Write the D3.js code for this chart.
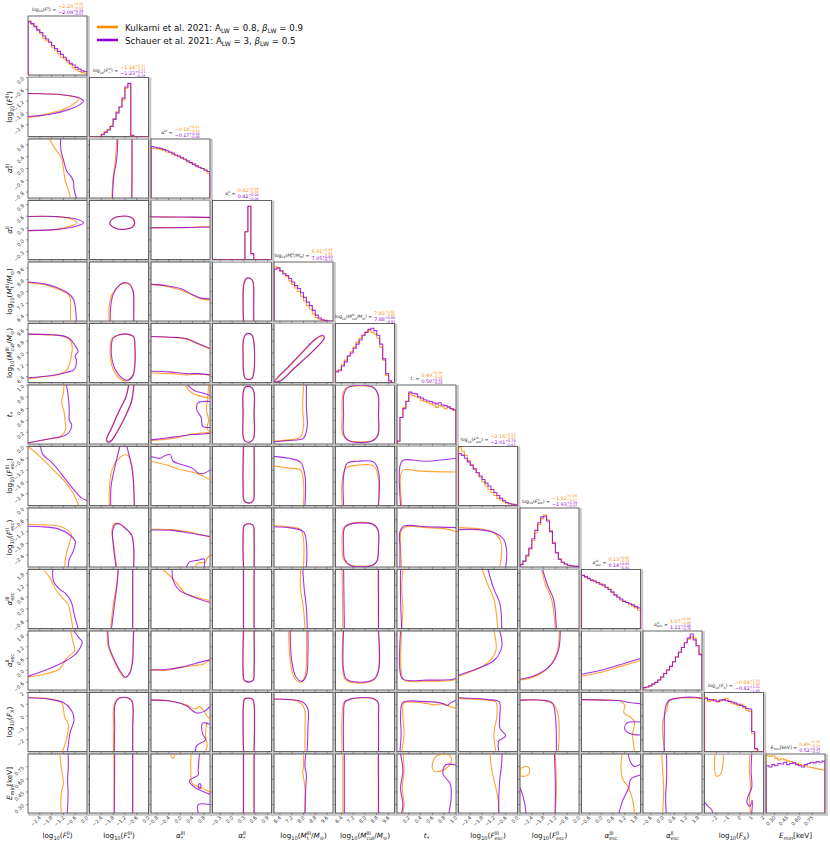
<!DOCTYPE html>
<html><head><meta charset="utf-8">
<script src="https://cdn.jsdelivr.net/npm/d3@7"></script>
<style>body{margin:0;background:#fff}text{font-family:"DejaVu Sans",sans-serif}</style>
</head><body><svg id="c" width="830" height="845"></svg>
<script>
// ---------------- DATA ----------------
const seriesNames = ["Kulkarni et al. 2021", "Schauer et al. 2021"];
const seriesColors = ["#ff8c00", "#9400d3"];
const legendParams = [["0.8","0.9"],["3","0.5"]];

const paramLabels = [
  [["log",""],["10","b"],["(",""],["F","i"],["II","ps","*"],[")",""]],
  [["log",""],["10","b"],["(",""],["F","i"],["III","ps","*"],[")",""]],
  [["α","i"],["III","ps","*"]],
  [["α","i"],["II","ps","*"]],
  [["log",""],["10","b"],["(",""],["M","i"],["III","ps","t"],["/",""],["M","i"],["⊙","b"],[")",""]],
  [["log",""],["10","b"],["(",""],["M","i"],["III","ps","cut"],["/",""],["M","i"],["⊙","b"],[")",""]],
  [["t","i"],["*","b"]],
  [["log",""],["10","b"],["(",""],["F","i"],["III","ps","esc"],[")",""]],
  [["log",""],["10","b"],["(",""],["F","i"],["II","ps","esc"],[")",""]],
  [["α","i"],["III","ps","esc"]],
  [["α","i"],["II","ps","esc"]],
  [["log",""],["10","b"],["(",""],["F","i"],["X","b"],[")",""]],
  [["E","i"],["min","b"],["[keV]",""]]
];
const paramDomains = [[-3,0],[-3,0],[-1,1],[-0.5,1],[6,10],[6,10],[0,1],[-3,0],[-3,0],[-1,2],[-1,2],[-3,2],[0.2,0.9]];
const paramTicks = [
  [-2.4,-1.8,-1.2,-0.6,0],[-2.4,-1.8,-1.2,-0.6,0],[-0.8,-0.4,0,0.4,0.8],[-0.3,0,0.3,0.6,0.9],
  [6.4,7.2,8.0,8.8,9.6],[6.4,7.2,8.0,8.8,9.6],[0.2,0.4,0.6,0.8,1.0],[-2.4,-1.8,-1.2,-0.6,0],
  [-2.4,-1.8,-1.2,-0.6,0],[-0.6,0,0.6,1.2,1.8],[-0.6,0,0.6,1.2,1.8],[-2,-1,0,1,2],[0.30,0.45,0.60,0.75]];
const tickDecimals = [1,1,1,1,1,1,1,1,1,1,1,0,2];

const titleKulkarni = [["−2.20","+0.40","−0.58"],["−1.24","+0.21","−0.31"],["−0.14","+0.51","−0.50"],["0.42","+0.04","−0.04"],["6.91","+0.86","−0.66"],["7.83","+0.62","−0.85"],["0.49","+0.34","−0.29"],["−2.16","+0.73","−0.55"],["−1.92","+0.38","−0.37"],["0.13","+0.92","−0.79"],["1.07","+0.48","−0.68"],["−0.84","+1.30","−1.49"],["0.49","+0.26","−0.20"]];
const titleSchauer = [["−2.09","+0.38","−0.55"],["−1.23","+0.21","−0.28"],["−0.17","+0.54","−0.48"],["0.42","+0.04","−0.04"],["7.05","+0.80","−0.73"],["7.88","+0.60","−0.83"],["0.50","+0.33","−0.29"],["−2.01","+0.79","−0.63"],["−1.93","+0.39","−0.37"],["0.14","+0.91","−0.81"],["1.11","+0.46","−0.76"],["−0.82","+1.31","−1.45"],["0.52","+0.24","−0.22"]];

const histKulkarni = [
  [.92,.86,.83,.77,.70,.62,.58,.55,.47,.42,.36,.30,.27,.22,.18,.12,.09,.06,.04,.03],
  [0,0,0,0,.04,.08,.12,.18,.30,.42,.50,.62,.82,.89,.02,0,0,0,0,0],
  [.84,.84,.83,.82,.81,.78,.77,.74,.72,.70,.68,.65,.61,.60,.58,.55,.52,.50,.48,.42],
  [0,0,0,0,0,0,0,0,0,0,0,.47,.90,.10,0,0,0,0,0,0],
  [.92,.90,.85,.80,.75,.68,.62,.56,.50,.42,.34,.26,.20,.12,.06,.03,.01,0,0,0],
  [.20,.22,.30,.38,.45,.52,.60,.68,.75,.80,.85,.88,.85,.82,.75,.60,.38,.12,.02,0],
  [.04,.45,.62,.73,.85,.82,.80,.78,.74,.72,.70,.68,.66,.62,.65,.64,.60,.62,.60,.57],
  [.98,.92,.85,.76,.70,.62,.55,.48,.40,.33,.27,.22,.17,.12,.09,.06,.04,.03,.02,.01],
  [.05,.10,.18,.30,.45,.58,.72,.82,.88,.80,.62,.42,.25,.14,.08,.05,.03,.02,.01,.01],
  [.90,.87,.84,.82,.81,.77,.76,.72,.70,.67,.61,.57,.53,.48,.46,.44,.41,.38,.35,.31],
  [.04,.05,.07,.10,.13,.17,.22,.28,.34,.40,.48,.56,.64,.72,.80,.86,.90,.88,.75,.62],
  [.92,.85,.86,.88,.84,.86,.87,.90,.85,.82,.80,.78,.80,.74,.70,.68,.30,.03,0,0],
  [.97,.96,.97,.93,.90,.92,.90,.88,.87,.85,.84,.82,.80,.80,.78,.77,.76,.75,.74,.73]
];
const histSchauer = [
  [.90,.87,.82,.76,.72,.66,.61,.56,.50,.45,.40,.35,.30,.25,.20,.17,.13,.10,.07,.06],
  [0,0,0,0,.03,.07,.11,.17,.29,.40,.50,.65,.84,.90,.02,0,0,0,0,0],
  [.87,.86,.85,.84,.82,.80,.78,.76,.73,.71,.68,.66,.63,.60,.57,.54,.52,.50,.47,.45],
  [0,0,0,0,0,0,0,0,0,0,0,.47,.90,.10,0,0,0,0,0,0],
  [.88,.90,.85,.80,.77,.72,.66,.60,.55,.48,.40,.32,.26,.18,.10,.05,.02,.01,0,0],
  [.18,.20,.28,.35,.45,.50,.58,.65,.72,.80,.85,.90,.92,.88,.80,.65,.40,.15,.03,0],
  [.05,.45,.60,.72,.88,.86,.85,.80,.78,.75,.73,.72,.70,.68,.70,.66,.65,.63,.60,.58],
  [.88,.85,.80,.74,.68,.62,.56,.50,.44,.38,.33,.27,.22,.17,.12,.08,.05,.03,.02,.01],
  [.04,.10,.20,.32,.48,.62,.75,.85,.86,.78,.60,.40,.24,.13,.08,.05,.03,.02,.01,.01],
  [.90,.88,.85,.82,.80,.78,.75,.74,.70,.66,.62,.57,.53,.50,.46,.44,.42,.40,.37,.35],
  [.04,.05,.07,.10,.13,.17,.22,.28,.34,.40,.48,.56,.64,.72,.80,.88,.95,.85,.75,.60],
  [.90,.88,.88,.86,.85,.87,.88,.86,.85,.84,.82,.80,.78,.76,.73,.72,.34,.05,0,0],
  [.80,.78,.82,.80,.84,.83,.86,.82,.84,.85,.82,.80,.78,.82,.84,.86,.85,.87,.86,.88]
];

// 2D contours: [column, series(0=Kulkarni,1=Schauer), closed, [[x,y],...]] in parameter units
const contoursRow1 = [
  [0,0,false,[[-3,-0.81],[-1.8,-0.84],[-0.9,-0.93],[-0.51,-1.02],[-0.42,-1.11],[-0.6,-1.29],[-1.05,-1.56],[-1.8,-1.8],[-2.55,-1.98],[-3,-2.04]]],
  [0,1,false,[[-3,-0.81],[-1.8,-0.84],[-0.9,-0.93],[-0.36,-1.05],[-0.18,-1.2],[-0.36,-1.38],[-0.9,-1.62],[-1.8,-1.86],[-2.55,-1.95],[-3,-1.98]]]
];
const contoursRow2 = [
  [0,0,false,[[-1.92,1],[-1.65,0.7],[-1.29,0.34],[-1.2,0],[-1.11,-0.4],[-0.96,-0.7],[-0.84,-1]]],
  [0,1,false,[[-1.35,1],[-1.32,0.6],[-1.2,0.3],[-1.02,-0.1],[-0.84,-0.24],[-0.69,-0.44],[-0.66,-0.7],[-0.54,-1]]],
  [1,0,false,[[-1.62,1],[-1.68,0.3],[-1.8,-0.3],[-1.86,-1]]],
  [1,0,false,[[-0.84,1],[-0.84,-0.2],[-0.87,-1]]],
  [1,1,false,[[-1.56,1],[-1.62,0.3],[-1.77,-0.3],[-1.83,-1]]],
  [1,1,false,[[-0.84,1],[-0.84,-1]]]
];
const contoursRow3 = [
  [0,0,false,[[-3,0.595],[-1.5,0.59],[-0.8,0.53],[-0.5,0.43],[-0.8,0.36],[-1.5,0.27],[-3,0.235]]],
  [0,1,false,[[-3,0.595],[-1.5,0.59],[-0.6,0.535],[-0.18,0.43],[-0.6,0.34],[-1.5,0.265],[-3,0.235]]],
  [1,0,true,[[-1.98,0.43],[-1.8,0.54],[-1.4,0.595],[-0.95,0.58],[-0.72,0.47],[-0.8,0.33],[-1.2,0.265],[-1.65,0.29],[-1.9,0.36]]],
  [1,1,true,[[-1.97,0.43],[-1.8,0.545],[-1.4,0.6],[-0.95,0.585],[-0.71,0.47],[-0.8,0.33],[-1.2,0.27],[-1.65,0.29],[-1.9,0.36]]],
  [2,0,false,[[-1,0.58],[0,0.575],[1,0.565]]],
  [2,0,false,[[-1,0.31],[0,0.315],[1,0.34]]],
  [2,1,false,[[-1,0.585],[0,0.58],[1,0.57]]],
  [2,1,false,[[-1,0.305],[0,0.31],[1,0.325]]]
];
const contoursRow4 = [
  [0,0,false,[[-3,8.6],[-2.1,8.44],[-1.56,8.2],[-0.96,7.8],[-0.84,7.5],[-0.84,7.0],[-0.84,6.0]]],
  [0,1,false,[[-3,8.64],[-2.1,8.5],[-1.47,8.24],[-0.96,7.88],[-0.7,7.5],[-0.6,7.0],[-0.54,6.0]]],
  [1,0,false,[[-2.0,6],[-2.0,7.0],[-1.86,7.8],[-1.5,8.4],[-1.23,8.55],[-0.96,8.45],[-0.78,8.0],[-0.78,6.0]]],
  [1,1,false,[[-1.95,6],[-1.92,7.0],[-1.8,7.8],[-1.5,8.4],[-1.26,8.6],[-0.96,8.5],[-0.78,8.0],[-0.75,7.0],[-0.75,6.0]]],
  [2,0,false,[[-1,8.48],[-0.5,8.36],[0,8.1],[0.4,7.75],[0.7,7.5],[1,7.4]]],
  [2,1,false,[[-1,8.48],[-0.5,8.4],[0,8.2],[0.4,7.8],[0.7,7.55],[1,7.5]]],
  [3,0,false,[[0.28,6],[0.27,7.5],[0.29,8.5],[0.35,8.85],[0.43,8.9],[0.51,8.75],[0.54,8.3],[0.54,7],[0.55,6]]],
  [3,1,false,[[0.29,6],[0.28,7.5],[0.3,8.5],[0.36,8.88],[0.44,8.92],[0.52,8.75],[0.55,8.3],[0.55,7],[0.55,6]]]
];
const contoursRow5 = [
  [0,0,false,[[-3,9.28],[-1.8,9.22],[-1.2,9.12],[-0.84,8.84],[-0.75,8.4],[-0.8,7.8],[-0.9,7.2],[-1.05,6.8],[-1.5,6.52],[-2.4,6.36],[-3,6.24]]],
  [0,1,false,[[-3,9.28],[-1.8,9.24],[-1.2,9.16],[-0.84,8.92],[-0.6,8.48],[-0.45,8.12],[-0.6,7.8],[-0.54,7.52],[-0.66,6.88],[-1.05,6.68],[-1.8,6.48],[-3,6.32]]],
  [1,0,true,[[-1.95,8.4],[-1.85,9.0],[-1.5,9.22],[-1.05,9.25],[-0.76,9.1],[-0.7,8.5],[-0.7,7.2],[-0.8,6.5],[-1.1,6.12],[-1.45,6.25],[-1.8,6.9],[-1.93,7.6]]],
  [1,1,true,[[-1.89,8.4],[-1.8,9.0],[-1.5,9.24],[-1.05,9.28],[-0.75,9.1],[-0.69,8.5],[-0.69,7.2],[-0.78,6.5],[-1.05,6.16],[-1.35,6.3],[-1.7,6.9],[-1.86,7.6]]],
  [2,0,false,[[-1,9.12],[-0.2,9.04],[0.2,8.94],[0.6,8.6],[1,8.28]]],
  [2,0,false,[[-1,6.64],[-0.3,6.6],[0.2,6.52],[0.6,6.56],[1,6.5]]],
  [2,1,false,[[-1,9.12],[-0.2,9.06],[0.2,8.98],[0.6,8.64],[1,8.3]]],
  [2,1,false,[[-1,6.76],[-0.4,6.72],[0.2,6.6],[0.6,6.6],[1,6.52]]],
  [3,0,true,[[0.27,7.7],[0.28,8.9],[0.34,9.25],[0.42,9.32],[0.5,9.2],[0.55,8.8],[0.55,6.8],[0.5,6.3],[0.42,6.2],[0.32,6.3],[0.28,6.8]]],
  [3,1,true,[[0.28,7.7],[0.29,8.9],[0.35,9.27],[0.43,9.33],[0.51,9.2],[0.55,8.8],[0.56,6.8],[0.51,6.3],[0.43,6.2],[0.33,6.3],[0.29,6.8]]],
  [4,0,true,[[6.05,6.05],[7.0,7.05],[8.0,8.1],[8.8,8.9],[9.3,9.15],[9.4,9.0],[9.1,8.6],[8.3,7.8],[7.3,6.9],[6.4,6.1]]],
  [4,1,true,[[6.05,6.08],[7.0,7.1],[8.0,8.15],[8.8,8.95],[9.3,9.2],[9.42,9.05],[9.15,8.65],[8.35,7.85],[7.35,6.95],[6.45,6.12]]]
];
const contoursRow6 = [
  [0,0,false,[[-1.17,1],[-1.2,0.86],[-1.29,0.72],[-1.17,0.55],[-1.1,0.35],[-1.08,0.25],[-1.3,0.14],[-2,0.08],[-3,0.02]]],
  [0,1,false,[[-1.05,1],[-0.96,0.83],[-0.9,0.55],[-0.9,0.4],[-0.78,0.33],[-0.93,0.19],[-1.35,0.12],[-1.9,0.09],[-3,0.02]]],
  [1,0,false,[[-1.02,1],[-1.16,0.8],[-1.52,0.55],[-1.88,0.28],[-2.15,0.07],[-2.07,0.03],[-1.92,0.05],[-1.62,0.2],[-1.22,0.45],[-0.88,0.72],[-0.76,1]]],
  [1,1,false,[[-1.0,1],[-1.14,0.8],[-1.5,0.55],[-1.86,0.28],[-2.13,0.07],[-2.05,0.03],[-1.9,0.05],[-1.6,0.2],[-1.2,0.45],[-0.86,0.72],[-0.74,1]]],
  [2,0,false,[[-1,0.06],[-0.2,0.1],[0.3,0.16],[0.8,0.19],[1,0.2]]],
  [2,0,false,[[0.18,1],[0.3,0.9],[0.6,0.82],[1,0.78]]],
  [2,0,false,[[0.95,1],[0.92,0.75],[0.88,0.6],[0.95,0.4],[0.9,0.25],[1,0.22]]],
  [2,1,false,[[-1,0.07],[-0.2,0.12],[0.4,0.16],[0.8,0.17],[1,0.18]]],
  [2,1,false,[[0.24,1],[0.5,0.9],[0.8,0.86],[1,0.82]]],
  [2,1,false,[[1,0.72],[0.6,0.7],[0.55,0.58],[0.7,0.45],[0.75,0.3],[1,0.28]]],
  [3,0,true,[[0.27,0.5],[0.28,0.9],[0.34,0.97],[0.46,0.97],[0.54,0.9],[0.55,0.5],[0.54,0.1],[0.46,0.04],[0.34,0.04],[0.28,0.1]]],
  [3,1,true,[[0.28,0.5],[0.29,0.9],[0.35,0.97],[0.47,0.97],[0.55,0.9],[0.56,0.5],[0.55,0.1],[0.47,0.04],[0.35,0.04],[0.29,0.1]]],
  [4,0,false,[[8.0,1],[7.95,0.6],[8.0,0.3],[7.8,0.12],[7.0,0.07],[6,0.05]]],
  [4,1,false,[[8.2,1],[8.2,0.6],[8.25,0.3],[8.0,0.1],[7.0,0.06],[6,0.04]]],
  [5,0,true,[[6.45,0.5],[6.5,0.85],[6.75,0.95],[8.5,0.96],[8.85,0.85],[8.9,0.5],[8.85,0.15],[8.5,0.06],[6.9,0.06],[6.5,0.15]]],
  [5,1,true,[[6.55,0.5],[6.58,0.85],[6.85,0.96],[8.5,0.97],[8.88,0.85],[8.92,0.5],[8.88,0.15],[8.5,0.05],[6.95,0.05],[6.58,0.15]]]
];
const contoursRow7 = [
  [0,0,false,[[-3,0],[-2.4,-0.5],[-1.8,-1.1],[-1.2,-1.7],[-0.75,-2.3],[-0.42,-3]]],
  [0,1,false,[[-2.37,0],[-2.25,-0.4],[-1.8,-0.8],[-1.3,-1.4],[-0.75,-2.1],[-0.3,-2.6],[0,-2.75]]],
  [1,0,false,[[-2.0,-3],[-1.98,-2],[-1.86,-1.2],[-1.6,-0.7],[-1.2,-0.42],[-1.0,-0.5],[-0.84,-1],[-0.75,-2],[-0.72,-3]]],
  [1,1,false,[[-1.92,-3],[-1.9,-2],[-1.7,-1.0],[-1.46,0]]],
  [1,1,false,[[-1.1,0],[-0.95,-0.6],[-0.8,-1.4],[-0.72,-3]]],
  [2,0,false,[[-1,-0.75],[-0.5,-0.93],[0,-1.17],[0.5,-1.35],[1,-1.68]]],
  [2,1,false,[[-1,-0.51],[-0.7,-0.6],[-0.5,-0.45],[-0.35,-0.4],[-0.25,-0.75],[0,-0.9],[0.4,-1.1],[0.6,-1.35],[0.75,-1.38],[1,-1.2]]],
  [3,0,false,[[0.28,0],[0.27,-2],[0.3,-2.75],[0.42,-2.88],[0.53,-2.75],[0.55,-2],[0.55,0]]],
  [3,1,false,[[0.29,0],[0.28,-2],[0.31,-2.75],[0.43,-2.88],[0.54,-2.75],[0.56,-2],[0.56,0]]],
  [4,0,false,[[6,-1.0],[7,-1.1],[7.8,-1.2],[8.0,-1.8],[8.0,-3]]],
  [4,1,false,[[6,-0.5],[7,-0.6],[7.8,-0.8],[8.1,-1.5],[8.1,-3]]],
  [5,0,false,[[6.45,-3],[6.45,-1.8],[6.7,-1.1],[7.5,-0.95],[8.6,-1.0],[8.9,-1.6],[8.9,-3]]],
  [5,1,false,[[6.55,-3],[6.55,-1.5],[6.8,-0.85],[7.5,-0.75],[8.6,-0.8],[8.92,-1.3],[8.92,-3]]],
  [6,0,false,[[0.08,-3],[0.06,-1.5],[0.1,-1.2],[0.4,-1.25],[1,-1.3]]],
  [6,1,false,[[0.06,-3],[0.05,-1.0],[0.1,-0.7],[0.5,-0.75],[1,-0.6]]]
];
const contoursRow8 = [
  [0,0,false,[[-3,-0.84],[-2.2,-0.86],[-1.5,-0.9],[-1.1,-1.05],[-0.8,-1.35],[-0.9,-1.8],[-1.05,-2.3],[-1.14,-3]]],
  [0,1,false,[[-3,-0.93],[-2.2,-0.96],[-1.5,-1.05],[-0.9,-1.35],[-0.6,-1.7],[-0.7,-2.2],[-0.9,-2.6],[-0.96,-3]]],
  [1,0,false,[[-1.62,-3],[-1.78,-1.8],[-1.86,-1.2],[-1.77,-0.82],[-1.55,-0.78],[-1.1,-1.1],[-0.85,-1.4],[-0.76,-2],[-0.76,-3]]],
  [1,1,false,[[-1.65,-3],[-1.8,-1.8],[-1.83,-1.2],[-1.7,-0.85],[-1.5,-0.8],[-1.1,-1.1],[-0.85,-1.4],[-0.75,-2],[-0.75,-3]]],
  [2,0,false,[[-1,-1.08],[-0.3,-1.1],[0.3,-1.22],[1,-1.47]]],
  [2,0,false,[[1,-2.4],[0.9,-2.55],[0.85,-2.75],[0.6,-2.8],[0.5,-3]]],
  [2,1,false,[[-1,-1.12],[-0.3,-1.14],[0.3,-1.27],[1,-1.45]]],
  [2,1,false,[[0.2,-3],[0.3,-2.75],[0.6,-2.65],[0.8,-2.6],[0.8,-3]]],
  [3,0,false,[[0.28,-3],[0.27,-1.5],[0.3,-0.9],[0.42,-0.8],[0.53,-0.9],[0.55,-1.5],[0.55,-3]]],
  [3,1,false,[[0.29,-3],[0.28,-1.5],[0.31,-0.9],[0.43,-0.8],[0.54,-0.9],[0.56,-1.5],[0.56,-3]]],
  [4,0,false,[[6,-0.9],[7.0,-0.95],[7.8,-1.1],[8.0,-1.6],[8.0,-3]]],
  [4,1,false,[[6,-0.95],[7.0,-1.0],[8.0,-1.2],[8.2,-1.8],[8.2,-3]]],
  [5,0,true,[[6.45,-2],[6.55,-1.0],[6.95,-0.8],[8.5,-0.8],[8.85,-1.1],[8.9,-2],[8.8,-2.7],[8.5,-2.9],[7.0,-2.9],[6.55,-2.6]]],
  [5,1,true,[[6.55,-2],[6.62,-1.0],[7.0,-0.82],[8.5,-0.82],[8.88,-1.1],[8.92,-2],[8.82,-2.7],[8.5,-2.92],[7.0,-2.92],[6.62,-2.6]]],
  [6,0,false,[[0.08,-3],[0.06,-2],[0.07,-1.2],[0.15,-0.95],[0.5,-1.0],[0.8,-1.05],[1,-1.2]]],
  [6,1,false,[[0.05,-3],[0.05,-2],[0.05,-1.2],[0.12,-0.92],[0.5,-0.95],[1,-1.0]]],
  [7,0,false,[[-3,-1.0],[-2,-1.05],[-1.3,-1.2],[-0.9,-1.6],[-0.8,-2.2],[-0.9,-3]]],
  [7,1,false,[[-3,-1.1],[-2,-1.1],[-1.2,-1.25],[-0.7,-1.6],[-0.55,-2.2],[-0.6,-3]]]
];
const contoursRow9 = [
  [0,0,false,[[-2.22,2],[-1.9,1.6],[-1.55,0.92],[-1.2,0.5],[-0.96,0.23],[-0.8,-0.5],[-0.72,-1]]],
  [0,1,false,[[-1.74,2],[-1.7,1.4],[-1.4,1.0],[-1.05,0.75],[-0.78,0.3],[-0.65,-0.3],[-0.45,-1]]],
  [1,0,false,[[-1.56,2],[-1.62,1.2],[-1.78,0.3],[-1.92,-1]]],
  [1,0,false,[[-0.81,2],[-0.81,-1]]],
  [1,1,false,[[-1.53,2],[-1.6,1.2],[-1.72,0.3],[-1.88,-1]]],
  [1,1,false,[[-0.8,2],[-0.8,-1]]],
  [2,0,false,[[-0.6,2],[-0.3,1.6],[-0.16,1.37],[0.18,0.77],[0.52,0.6],[1,0.41]]],
  [2,1,false,[[-0.28,2],[-0.26,1.5],[-0.04,0.95],[0.42,0.62],[1,0.32]]],
  [3,0,false,[[0.28,2],[0.28,-1]]],[3,0,false,[[0.55,2],[0.55,-1]]],
  [3,1,false,[[0.29,2],[0.29,-1]]],[3,1,false,[[0.56,2],[0.56,-1]]],
  [4,0,false,[[7.8,2],[7.8,1.0],[8.0,0],[8.1,-1]]],
  [4,1,false,[[7.95,2],[8.05,1.0],[8.2,0],[8.25,-1]]],
  [5,0,false,[[6.45,2],[6.5,-1]]],[5,0,false,[[8.88,2],[8.9,-1]]],
  [5,1,false,[[6.55,2],[6.6,-1]]],[5,1,false,[[8.92,2],[8.92,-1]]],
  [6,0,false,[[0.1,2],[0.08,1],[0.1,0],[0.08,-1]]],
  [6,1,false,[[0.06,2],[0.06,0.5],[0.08,-1]]],
  [7,0,false,[[-1.8,2],[-1.5,1.2],[-1.2,0.5],[-1.0,-1]]],
  [7,1,false,[[-1.5,2],[-1.2,1.0],[-0.9,0.3],[-0.8,-1]]],
  [8,0,false,[[-1.9,2],[-1.7,1.2],[-1.4,0.5],[-1.2,-1]]],
  [8,1,false,[[-1.85,2],[-1.6,1.2],[-1.3,0.5],[-1.15,-1]]]
];
const contoursRow10 = [
  [0,0,false,[[-0.84,2],[-0.7,1.4],[-0.63,1.0],[-1.05,0.6],[-1.38,0.08],[-2.4,-0.25],[-3,-0.34]]],
  [0,1,false,[[-0.66,2],[-0.36,1.6],[-0.24,1.46],[-0.54,0.86],[-1.05,0.5],[-1.71,0.17],[-3,-0.31]]],
  [1,0,false,[[-2.1,2],[-2.05,1.2],[-1.8,0.6],[-1.45,-0.1],[-1.2,-0.38],[-1.0,-0.2],[-0.82,0.5],[-0.78,2]]],
  [1,1,false,[[-2.07,2],[-2.0,1.2],[-1.77,0.6],[-1.4,-0.1],[-1.17,-0.35],[-0.95,-0.15],[-0.8,0.5],[-0.78,1.3],[-0.75,2]]],
  [2,0,false,[[-1,0.05],[-0.5,0.0],[0,0.15],[0.5,0.25],[0.75,0.3],[1,0.53]]],
  [2,1,false,[[-1,0.02],[-0.5,0.04],[0,0.15],[0.5,0.35],[1,0.53]]],
  [3,0,false,[[0.28,2],[0.27,0],[0.3,-0.5],[0.42,-0.6],[0.53,-0.5],[0.55,0],[0.55,2]]],
  [3,1,false,[[0.29,2],[0.28,0],[0.31,-0.5],[0.43,-0.6],[0.54,-0.5],[0.56,0],[0.56,2]]],
  [4,0,false,[[7.0,2],[7.1,0.5],[7.4,-0.4],[7.8,-0.6],[8.1,-0.3],[8.2,0.8],[8.2,2]]],
  [4,1,false,[[7.1,2],[7.2,0.5],[7.5,-0.35],[7.9,-0.55],[8.2,-0.25],[8.3,0.8],[8.3,2]]],
  [5,0,false,[[6.5,2],[6.5,0],[6.7,-0.5],[7.5,-0.65],[8.6,-0.5],[8.9,0],[8.9,2]]],
  [5,1,false,[[6.55,2],[6.55,0],[6.75,-0.45],[7.5,-0.6],[8.6,-0.45],[8.92,0],[8.92,2]]],
  [6,0,false,[[0.08,2],[0.07,0],[0.12,-0.5],[0.5,-0.55],[0.95,-0.5],[1,-0.45]]],
  [6,1,false,[[0.06,2],[0.05,0],[0.1,-0.45],[0.5,-0.5],[0.95,-0.45],[1,-0.4]]],
  [7,0,false,[[-1.2,2],[-1.1,1.0],[-1.5,0.4],[-2.2,0.0],[-3,-0.3]]],
  [7,1,false,[[-0.9,2],[-0.8,1.2],[-1.2,0.5],[-2,0.1],[-3,-0.25]]],
  [8,0,false,[[-1.0,2],[-1.1,1.0],[-1.5,0.2],[-2.2,-0.3],[-3,-0.5]]],
  [8,1,false,[[-0.95,2],[-1.05,1.0],[-1.45,0.25],[-2.2,-0.25],[-3,-0.45]]],
  [9,0,false,[[-1,-0.3],[0,-0.1],[1,0.2],[2,0.5]]],
  [9,1,false,[[-1,-0.2],[0,0.0],[1,0.3],[2,0.6]]]
];
const contoursRow11 = [
  [0,0,false,[[-3,1.55],[-2,1.5],[-1.29,1.15],[-1.2,0.7],[-1.15,0.0],[-0.95,-0.75],[-1.05,-2],[-1.25,-3]]],
  [0,1,false,[[-3,1.55],[-2,1.45],[-1.2,1.15],[-0.78,0.45],[-0.66,-0.3],[-0.87,-1.45],[-0.95,-2.45],[-1.0,-3]]],
  [1,0,false,[[-1.78,-3],[-1.78,-1],[-1.74,1.0],[-1.52,1.5],[-1.0,1.5],[-0.83,1.2],[-0.81,-1],[-0.81,-3]]],
  [1,1,false,[[-1.74,-3],[-1.72,-1],[-1.7,1.0],[-1.5,1.52],[-1.0,1.52],[-0.82,1.2],[-0.8,-1],[-0.8,-3]]],
  [2,0,false,[[-1,1.35],[-0.4,1.3],[0.2,0.95],[0.5,0.6],[0.65,0.8],[0.8,0.4],[0.9,0.0],[1,-0.2]]],
  [2,0,false,[[0.9,-0.5],[0.85,-1.5],[0.9,-2.5],[0.85,-3]]],
  [2,1,false,[[-1,1.35],[-0.4,1.3],[0.18,0.9],[0.5,0.3],[0.6,0.25],[0.8,0.4],[1,0.8]]],
  [2,1,false,[[1,-0.7],[0.75,-0.6],[0.75,-1.5],[0.85,-2.0],[0.55,-2.5],[0.5,-3]]],
  [3,0,false,[[0.28,-3],[0.28,1.0],[0.31,1.45],[0.41,1.52],[0.52,1.4],[0.55,1.0],[0.55,-3]]],
  [3,1,false,[[0.29,-3],[0.29,1.0],[0.32,1.45],[0.42,1.53],[0.53,1.4],[0.56,1.0],[0.56,-3]]],
  [4,0,false,[[6,1.45],[7.5,1.3],[7.9,1.0],[8.1,0.4],[8.1,-1],[8.1,-3]]],
  [4,1,false,[[6,1.45],[7.5,1.35],[8.0,1.15],[8.3,0.6],[8.3,-1],[8.25,-3]]],
  [5,0,false,[[6.45,-3],[6.45,0],[6.6,1.2],[7.05,1.45],[8.5,1.5],[8.85,1.2],[8.9,0],[8.9,-3]]],
  [5,1,false,[[6.55,-3],[6.55,0],[6.65,1.2],[7.1,1.47],[8.5,1.52],[8.88,1.2],[8.92,0],[8.92,-3]]],
  [6,0,false,[[0.08,-3],[0.12,-1.5],[0.1,0],[0.12,1.1],[0.45,1.1],[0.65,0.95],[0.8,1.05],[0.9,0.8],[1,0.7]]],
  [6,1,false,[[0.05,-3],[0.07,-1.5],[0.06,0],[0.1,1.15],[0.4,1.25],[0.75,1.1],[0.85,0.9],[0.9,1.1],[1,1.35]]],
  [7,0,false,[[-3,1.5],[-1.5,1.35],[-1.1,1.2],[-1.05,0],[-1.2,-1.5],[-1.1,-3]]],
  [7,1,false,[[-3,1.55],[-1.5,1.4],[-0.93,1.2],[-0.9,0],[-0.9,-1.0],[-0.6,-1.7],[-0.95,-2.1],[-0.95,-3]]],
  [8,0,false,[[-3,1.35],[-1.8,1.3],[-1.3,1.0],[-1.05,0],[-1.05,-3]]],
  [8,1,false,[[-3,1.35],[-1.8,1.35],[-1.35,1.1],[-1.2,0],[-1.15,-3]]],
  [9,0,false,[[-1,1.4],[0.3,1.35],[1.0,1.25],[1.2,0.9],[1.15,0.3],[1.5,-0.1],[1.7,-0.5],[1.6,-1.5],[1.7,-3]]],
  [9,1,false,[[-1,1.4],[0.2,1.35],[1.0,1.3],[1.4,1.15],[2,1.05]]],
  [9,1,false,[[2,-0.5],[1.3,-0.6],[1.2,-1.1],[1.5,-1.5],[2,-1.6]]],
  [10,0,false,[[0.1,-3],[0.0,-1.5],[0.0,-0.5],[0.2,0.5],[0.35,1.3],[1.0,1.55],[2,1.5]]],
  [10,1,false,[[0.08,-3],[0.08,-1.5],[0.12,0.5],[0.3,1.3],[0.9,1.55],[1.6,1.6],[2,1.5]]]
];
const contoursRow12 = [
  [0,0,false,[[-1.38,0.9],[-1.3,0.72],[-1.2,0.55],[-1.3,0.45],[-1.33,0.3],[-1.3,0.2]]],
  [0,1,false,[[-0.96,0.9],[-0.95,0.75],[-0.99,0.6],[-0.96,0.45],[-1.0,0.2]]],
  [1,0,false,[[-1.76,0.9],[-1.74,0.2]]],[1,0,false,[[-0.81,0.9],[-0.81,0.2]]],
  [1,1,false,[[-1.72,0.9],[-1.74,0.2]]],[1,1,false,[[-0.8,0.9],[-0.8,0.2]]],
  [2,0,false,[[-0.32,0.9],[-0.3,0.86],[-0.24,0.85],[-0.2,0.9]]],
  [2,0,false,[[0.36,0.9],[0.35,0.7],[0.4,0.55],[0.7,0.5],[1,0.45]]],
  [2,1,false,[[0.64,0.9],[0.6,0.7],[0.6,0.65],[0.3,0.58],[0.5,0.5],[0.8,0.45],[1,0.42]]],
  [2,1,true,[[0.6,0.52],[0.65,0.55],[0.7,0.52],[0.65,0.49]]],
  [2,1,false,[[1,0.3],[0.6,0.3],[0.6,0.2]]],
  [3,0,false,[[0.28,0.9],[0.28,0.2]]],[3,0,false,[[0.55,0.9],[0.55,0.2]]],
  [3,1,false,[[0.29,0.9],[0.29,0.2]]],[3,1,false,[[0.56,0.9],[0.56,0.2]]],
  [4,0,false,[[8.0,0.9],[8.0,0.75],[7.95,0.7],[8.1,0.5],[8.1,0.2]]],
  [4,1,false,[[8.15,0.9],[8.1,0.75],[8.2,0.65],[8.15,0.5],[8.1,0.2]]],
  [5,0,false,[[6.5,0.9],[6.5,0.2]]],[5,0,false,[[8.88,0.9],[8.9,0.2]]],
  [5,1,false,[[6.6,0.9],[6.6,0.2]]],[5,1,false,[[8.92,0.9],[8.92,0.2]]],
  [6,0,false,[[0.1,0.9],[0.12,0.7],[0.09,0.5],[0.12,0.3],[0.1,0.2]]],
  [6,0,true,[[0.66,0.87],[0.6,0.78],[0.62,0.7],[0.75,0.7],[0.88,0.76],[0.92,0.85],[0.85,0.9]]],
  [6,1,false,[[0.06,0.9],[0.1,0.7],[0.06,0.5],[0.1,0.3],[0.08,0.2]]],
  [6,1,false,[[1,0.77],[0.82,0.77],[0.78,0.66],[0.9,0.55],[0.92,0.4],[0.88,0.2]]],
  [7,0,false,[[-1.4,0.9],[-1.3,0.7],[-1.1,0.5],[-0.98,0.35],[-0.95,0.2]]],
  [7,1,false,[[-0.78,0.9],[-0.82,0.75],[-0.9,0.6],[-0.95,0.4],[-0.95,0.2]]],
  [8,0,true,[[-2.95,0.73],[-2.6,0.75],[-2.5,0.7],[-2.6,0.65],[-2.95,0.64]]],
  [8,0,false,[[-1.2,0.9],[-1.15,0.5],[-1.2,0.2]]],
  [8,1,false,[[-3,0.5],[-2.85,0.4],[-2.75,0.3],[-2.7,0.2]]],
  [8,1,false,[[-1.25,0.9],[-1.2,0.5],[-1.22,0.2]]],
  [9,0,false,[[1.07,0.9],[1.0,0.75],[1.1,0.6],[1.4,0.5],[1.6,0.35],[1.7,0.2]]],
  [9,1,false,[[1.37,0.9],[1.5,0.8],[1.7,0.75],[2,0.78]]],
  [9,1,false,[[2,0.65],[1.5,0.6],[1.4,0.5],[1.1,0.35],[0.9,0.2]]],
  [10,0,false,[[-0.05,0.9],[0.0,0.7],[0.05,0.5],[0.0,0.2]]],
  [10,1,false,[[0.2,0.9],[0.2,0.6],[0.15,0.4],[0.18,0.2]]],
  [11,0,false,[[-2.1,0.9],[-2.15,0.75],[-2.0,0.64],[-1.7,0.65],[-1.45,0.75],[-1.4,0.9]]],
  [11,0,false,[[0.85,0.9],[0.8,0.7],[0.9,0.5],[0.8,0.35],[0.9,0.2]]],
  [11,1,false,[[1.0,0.9],[0.95,0.7],[1.0,0.5],[0.7,0.4],[0.6,0.32],[0.85,0.28],[1.05,0.35],[1.0,0.2]]],
  [11,1,false,[[-3,0.33],[-2.7,0.28],[-2.4,0.24],[-2.3,0.2]]]
];
const contourRows = [null, contoursRow1, contoursRow2, contoursRow3, contoursRow4, contoursRow5, contoursRow6,
  contoursRow7, contoursRow8, contoursRow9, contoursRow10, contoursRow11, contoursRow12];

// ---------------- DRAW ----------------
const svg = d3.select("#c");
svg.append("rect").attr("width",830).attr("height",845).attr("fill","#fff");
const N = paramLabels.length;
const X0 = 28, Y0 = 16, STEP = 61.5, S = 59;
const px = c => X0 + c*STEP, py = r => Y0 + r*STEP;
const xScales = paramDomains.map((d,i)=>d3.scaleLinear().domain(d).range([px(i), px(i)+S]));
const yScales = paramDomains.map((d,i)=>d3.scaleLinear().domain(d).range([py(i)+S, py(i)]));
const fmtTick = (v,i) => d3.format("."+tickDecimals[i]+"f")(v).replace("-","−");

function rich(text, parts, fs){
  let pending = 0, curY = 0;
  const add = (t, yy, size) => {
    const s = text.append("tspan").attr("font-size", size).text(t);
    const dy = yy - curY; if (Math.abs(dy) > 1e-6) s.attr("dy", dy);
    curY = yy;
    if (pending){ s.attr("dx", pending); pending = 0; }
    return s;
  };
  parts.forEach(p=>{
    const [t, ty, sub] = p;
    if (ty===''||ty==='i'){
      const s = add(t, 0, fs); if (ty==='i') s.attr("font-style","italic");
    } else if (ty==='b'){
      add(t, fs*0.28, fs*0.7);
    } else if (ty==='p'){
      add(t, -fs*0.4, fs*0.7);
    } else if (ty==='ps'){
      const s = add(t, -fs*0.42, fs*0.7);
      const w = s.node().getComputedTextLength();
      const s2 = add(sub, fs*0.3, fs*0.7);
      s2.attr("dx", -w);
      const w2 = s2.node().getComputedTextLength();
      pending = Math.max(0, w - w2);
    }
  });
}

const defs = svg.append("defs");
const lineOpen = d3.line().x(d=>d[0]).y(d=>d[1]).curve(d3.curveCatmullRom.alpha(0.5));
const lineClosed = d3.line().x(d=>d[0]).y(d=>d[1]).curve(d3.curveCatmullRomClosed.alpha(0.5));

function frame(r,c){
  const g = svg.append("g");
  const x=px(c), y=py(r);
  g.append("line").attr("x1",x+S+1.6).attr("x2",x+S+1.6).attr("y1",y).attr("y2",y+S+3).attr("stroke","#c8c8c8").attr("stroke-width",2.4);
  g.append("line").attr("x1",x).attr("x2",x+S+3).attr("y1",y+S+1.6).attr("y2",y+S+1.6).attr("stroke","#c8c8c8").attr("stroke-width",2.4);
  g.append("rect").attr("x",x).attr("y",y).attr("width",S).attr("height",S).attr("fill","none").attr("stroke","#555").attr("stroke-width",0.9);
  paramTicks[c].forEach(v=>{
    const tx = xScales[c](v);
    g.append("line").attr("x1",tx).attr("x2",tx).attr("y1",y+S).attr("y2",y+S+2).attr("stroke","#555").attr("stroke-width",0.6);
  });
  if (r!==c) paramTicks[r].forEach(v=>{
    const ty = yScales[r](v);
    g.append("line").attr("x1",x-2).attr("x2",x).attr("y1",ty).attr("y2",ty).attr("stroke","#555").attr("stroke-width",0.6);
  });
  const id = "cp"+r+"_"+c;
  defs.append("clipPath").attr("id",id).append("rect").attr("x",x).attr("y",y).attr("width",S).attr("height",S);
  return svg.append("g").attr("clip-path","url(#"+id+")");
}

for (let r=1;r<N;r++){
  const groups = {};
  for (let c=0;c<r;c++) groups[c] = frame(r,c);
  contourRows[r].forEach(([c, s, closed, pts])=>{
    const P = pts.map(p=>[xScales[c](p[0]), yScales[r](p[1])]);
    groups[c].append("path").attr("d",(closed?lineClosed:lineOpen)(P))
      .attr("fill","none").attr("stroke",seriesColors[s]).attr("stroke-opacity",0.8).attr("stroke-width",1.1);
  });
}

const hy = d3.scaleLinear().domain([0,1]);
for (let i=0;i<N;i++){
  const g = frame(i,i);
  hy.range([py(i)+S, py(i)]);
  [histKulkarni[i], histSchauer[i]].forEach((h,s)=>{
    const [lo,hi] = paramDomains[i];
    const edges = d3.range(h.length+1).map(k=>lo+k*(hi-lo)/h.length);
    const pts = [[edges[0],0]];
    h.forEach((v,k)=>{ pts.push([edges[k],v]); pts.push([edges[k+1],v]); });
    pts.push([edges[h.length],0]);
    g.append("path").attr("d", d3.line().x(d=>xScales[i](d[0])).y(d=>hy(d[1]))(pts))
      .attr("fill","none").attr("stroke",seriesColors[s]).attr("stroke-opacity",0.8).attr("stroke-width",1.1);
  });
  const tg = svg.append("g");
  const lt = tg.append("text").attr("x",0).attr("y",0).attr("fill","#222");
  rich(lt, paramLabels[i].concat([[" =",""]]), 4.6);
  const lw = lt.node().getBBox().width;
  const vx = lw + 2;
  [titleKulkarni[i], titleSchauer[i]].forEach((tv,s)=>{
    const t = tg.append("g").attr("transform",`translate(${vx},${s===0?-3.3:3.0})`)
      .append("text").attr("fill",seriesColors[s]);
    rich(t, [[tv[0],""],[tv[1],"ps",tv[2]]], 4.8);
  });
  const bb = tg.node().getBBox();
  const cx = px(i)+S/2;
  tg.attr("transform",`translate(${cx - (bb.x+bb.width/2)},${py(i)-5.2})`);
}

for (let c=0;c<N;c++){
  paramTicks[c].forEach(v=>{
    const tx = xScales[c](v);
    svg.append("text").attr("transform",`translate(${tx+1.5},${py(N-1)+S+5}) rotate(-45)`)
      .attr("text-anchor","end").attr("font-size",5).attr("fill","#333").text(fmtTick(v,c));
  });
  const lab = svg.append("text").attr("transform",`translate(${px(c)+S/2},838)`).attr("text-anchor","middle").attr("fill","#111");
  rich(lab, paramLabels[c], 7.2);
}
for (let r=1;r<N;r++){
  paramTicks[r].forEach(v=>{
    const ty = yScales[r](v);
    svg.append("text").attr("transform",`translate(${px(0)-3.5},${ty+1.5}) rotate(-45)`)
      .attr("text-anchor","end").attr("font-size",5).attr("fill","#333").text(fmtTick(v,r));
  });
  const lab = svg.append("text").attr("transform",`translate(12,${py(r)+S/2}) rotate(-90)`).attr("text-anchor","middle").attr("fill","#111");
  rich(lab, paramLabels[r], 7.2);
}

seriesNames.forEach((name,s)=>{
  const y = 27 + s*13;
  svg.append("line").attr("x1",97).attr("x2",118).attr("y1",y).attr("y2",y).attr("stroke",seriesColors[s]).attr("stroke-width",2.6);
  const t = svg.append("text").attr("transform",`translate(125,${y+3.5})`).attr("fill","#111");
  rich(t, [[name+": A",""],["LW","b"],[" = "+legendParams[s][0]+", ",""],["β","i"],["LW","b"],[" = "+legendParams[s][1],""]], 8.7);
});
</script></body></html>
